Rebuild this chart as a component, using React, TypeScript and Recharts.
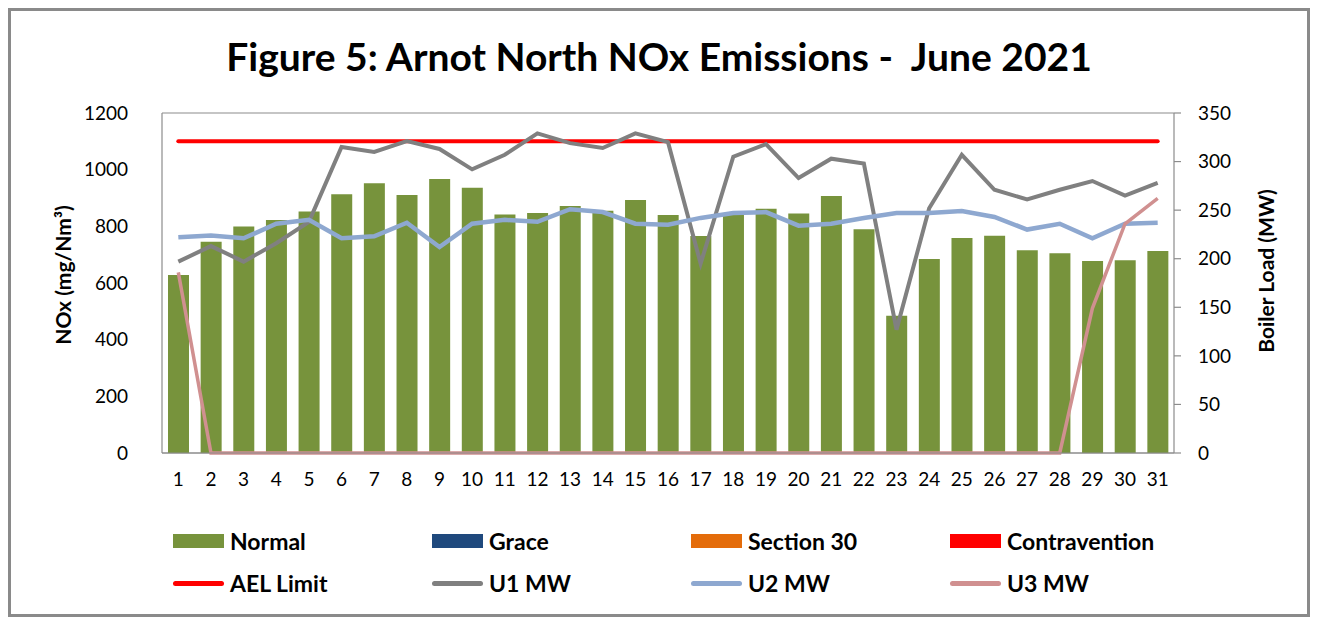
import {
  Bar,
  CartesianGrid,
  ComposedChart,
  Legend,
  Line,
  XAxis,
  YAxis,
} from "recharts";

const days = [
  "1", "2", "3", "4", "5", "6", "7", "8", "9", "10", "11", "12", "13", "14", "15", "16",
  "17", "18", "19", "20", "21", "22", "23", "24", "25", "26", "27", "28", "29", "30", "31",
];

// NOx (mg/Nm3), left axis
const normal = [
  628, 746, 799, 822, 852, 913, 952, 911, 967, 936, 842, 847, 872, 855, 893, 840,
  766, 847, 862, 845, 907, 790, 484, 685, 759, 767, 716, 705, 678, 680, 713,
];
const grace = [
  0, 0, 0, 0, 0, 0, 0, 0, 0, 0, 0, 0, 0, 0, 0, 0,
  0, 0, 0, 0, 0, 0, 0, 0, 0, 0, 0, 0, 0, 0, 0,
];
const section30 = [
  0, 0, 0, 0, 0, 0, 0, 0, 0, 0, 0, 0, 0, 0, 0, 0,
  0, 0, 0, 0, 0, 0, 0, 0, 0, 0, 0, 0, 0, 0, 0,
];
const contravention = [
  0, 0, 0, 0, 0, 0, 0, 0, 0, 0, 0, 0, 0, 0, 0, 0,
  0, 0, 0, 0, 0, 0, 0, 0, 0, 0, 0, 0, 0, 0, 0,
];
const aelLimit = [
  1100, 1100, 1100, 1100, 1100, 1100, 1100, 1100, 1100, 1100, 1100, 1100, 1100, 1100, 1100, 1100,
  1100, 1100, 1100, 1100, 1100, 1100, 1100, 1100, 1100, 1100, 1100, 1100, 1100, 1100, 1100,
];

// boiler load (MW), right axis
const u1 = [
  197, 213, 197, 216, 238, 315, 310, 321, 313, 292, 307, 329, 319, 314, 329, 320,
  195, 305, 318, 283, 303, 298, 127, 252, 307, 271, 261, 271, 280, 265, 278,
];
const u2 = [
  222, 224, 221, 236, 240, 221, 223, 237, 212, 236, 240, 238, 251, 248, 236, 235,
  242, 247, 248, 234, 236, 242, 247, 247, 249, 243, 230, 236, 221, 236, 237,
];
const u3 = [
  186, 0, 0, 0, 0, 0, 0, 0, 0, 0, 0, 0, 0, 0, 0, 0,
  0, 0, 0, 0, 0, 0, 0, 0, 0, 0, 0, 0, 149, 236, 262,
];

const noxTicks = [0, 200, 400, 600, 800, 1000, 1200];
const mwTicks = [0, 50, 100, 150, 200, 250, 300, 350];

const data = days.map((d, i) => ({
  day: d,
  normal: normal[i],
  grace: grace[i],
  section30: section30[i],
  contravention: contravention[i],
  ael: aelLimit[i],
  u1: u1[i],
  u2: u2[i],
  u3: u3[i],
}));

const FONT = "Lato, 'Open Sans', sans-serif";

const legendItems = [
  { name: "Normal", color: "#77933C", kind: "bar" },
  { name: "Grace", color: "#1F497D", kind: "bar" },
  { name: "Section 30", color: "#E46C0A", kind: "bar" },
  { name: "Contravention", color: "#FF0000", kind: "bar" },
  { name: "AEL Limit", color: "#FF0000", kind: "line" },
  { name: "U1 MW", color: "#808080", kind: "line" },
  { name: "U2 MW", color: "#8EA8D0", kind: "line" },
  { name: "U3 MW", color: "#D09090", kind: "line" },
];

const LegendBox = () => (
  <div
    style={{
      display: "grid",
      gridTemplateColumns: "259px 259px 259px 259px",
      gridAutoRows: "42px",
      fontFamily: FONT,
      fontWeight: 700,
      fontSize: 23,
      color: "#000",
    }}
  >
    {legendItems.map((it) => (
      <div key={it.name} style={{ display: "flex", alignItems: "center" }}>
        <span
          style={{
            display: "inline-block",
            width: 51,
            height: it.kind === "bar" ? 14 : 5,
            borderRadius: it.kind === "bar" ? 0 : 3,
            background: it.color,
            marginRight: 6,
          }}
        />
        <span>{it.name}</span>
      </div>
    ))}
  </div>
);

const AxisTitle = (props: any) => {
  const { viewBox, text, dx, dy } = props;
  const cx = viewBox.x + viewBox.width / 2 + dx;
  const cy = viewBox.y + viewBox.height / 2 + dy;
  return (
    <text
      x={cx}
      y={cy}
      transform={`rotate(-90, ${cx}, ${cy})`}
      textAnchor="middle"
      dominantBaseline="central"
      fontFamily={FONT}
      fontWeight={700}
      fontSize={21}
      fill="#000"
    >
      {text}
    </text>
  );
};

const tickStyle = { fontFamily: FONT, fontSize: 19, fill: "#000" };

export default function App() {
  return (
    <div
      style={{
        position: "relative",
        width: 1302,
        height: 609,
        boxSizing: "border-box",
        border: "3px solid #8a8a8a",
        background: "#fff",
        fontFamily: FONT,
      }}
    >
      <div
        style={{
          position: "absolute",
          top: 23,
          left: 0,
          width: 1296,
          textAlign: "center",
          fontWeight: 700,
          fontSize: 39,
          lineHeight: "44px",
          color: "#000",
          zIndex: 1,
        }}
      >
        Figure 5: Arnot North NOx Emissions -&nbsp; June 2021
      </div>
      <ComposedChart
        width={1296}
        height={603}
        data={data}
        margin={{ top: 102, right: 53, left: 71, bottom: 131 }}
      >
        <CartesianGrid vertical={false} stroke="#8c8c8c" strokeWidth={1.2} />
        <XAxis
          dataKey="day"
          interval={0}
          tickLine={false}
          tickSize={0}
          tickMargin={20}
          axisLine={{ stroke: "#8c8c8c", strokeWidth: 1.2 }}
          tick={tickStyle}
          height={30}
        />
        <YAxis
          yAxisId="nox"
          domain={[0, 1200]}
          ticks={noxTicks}
          tickLine={false}
          tickSize={0}
          tickMargin={34}
          axisLine={{ stroke: "#8c8c8c", strokeWidth: 1.2 }}
          tick={tickStyle}
          width={80}
          label={<AxisTitle text="NOx (mg/Nm³)" dx={-60} dy={-8} />}
        />
        <YAxis
          yAxisId="mw"
          orientation="right"
          domain={[0, 350]}
          ticks={mwTicks}
          tickSize={7}
          tickMargin={17}
          tickLine={{ stroke: "#8c8c8c", strokeWidth: 1.2 }}
          axisLine={{ stroke: "#8c8c8c", strokeWidth: 1.2 }}
          tick={tickStyle}
          width={80}
          label={<AxisTitle text="Boiler Load (MW)" dx={51} dy={-12} />}
        />
        <Bar yAxisId="nox" dataKey="normal" name="Normal" stackId="a" fill="#77933C" barSize={21} isAnimationActive={false} />
        <Bar yAxisId="nox" dataKey="grace" name="Grace" stackId="a" fill="#1F497D" barSize={21} isAnimationActive={false} />
        <Bar yAxisId="nox" dataKey="section30" name="Section 30" stackId="a" fill="#E46C0A" barSize={21} isAnimationActive={false} />
        <Bar yAxisId="nox" dataKey="contravention" name="Contravention" stackId="a" fill="#FF0000" barSize={21} isAnimationActive={false} />
        <Line yAxisId="nox" dataKey="ael" name="AEL Limit" stroke="#FF0000" strokeWidth={4} strokeLinecap="round" dot={false} activeDot={false} isAnimationActive={false} />
        <Line yAxisId="mw" dataKey="u1" name="U1 MW" stroke="#808080" strokeWidth={4} dot={false} activeDot={false} isAnimationActive={false} />
        <Line yAxisId="mw" dataKey="u2" name="U2 MW" stroke="#8EA8D0" strokeWidth={4.5} dot={false} activeDot={false} isAnimationActive={false} />
        <Line yAxisId="mw" dataKey="u3" name="U3 MW" stroke="#D09090" strokeWidth={3.5} dot={false} activeDot={false} isAnimationActive={false} />
        <Legend
          verticalAlign="middle"
          content={<LegendBox />}
          wrapperStyle={{ top: 509, left: 162, width: 1036 }}
        />
      </ComposedChart>
    </div>
  );
}
